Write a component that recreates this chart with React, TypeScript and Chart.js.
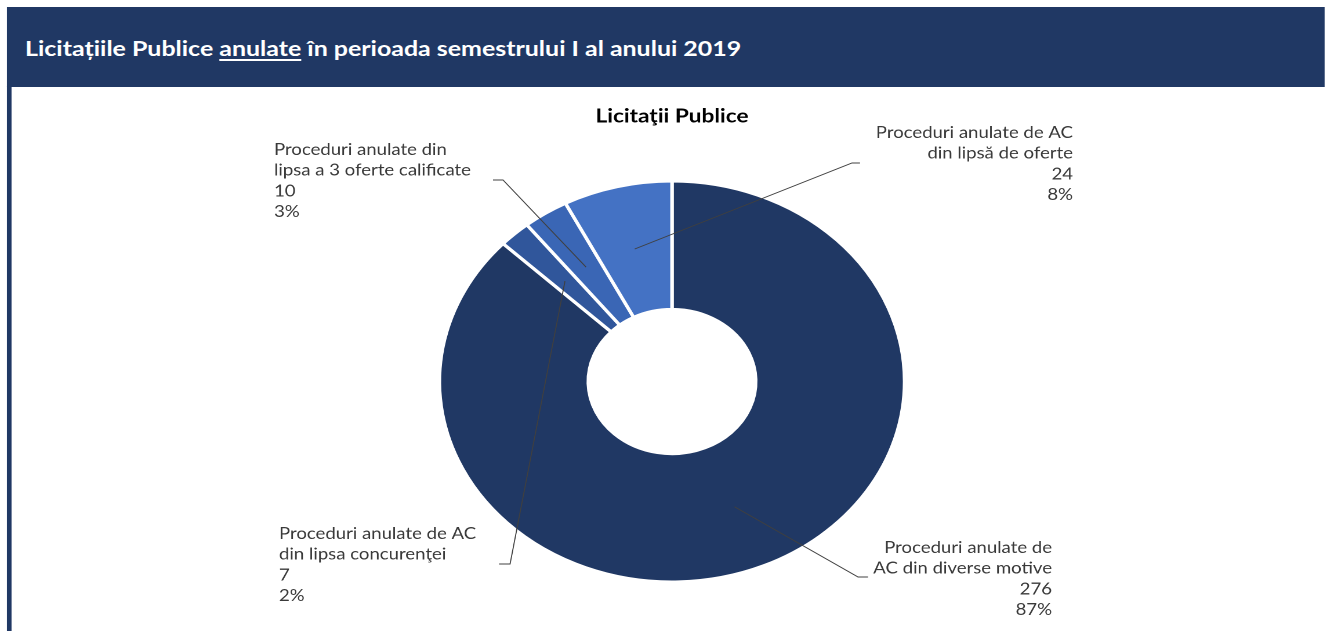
import React, { useEffect, useRef } from "react";
import { Chart, registerables } from "chart.js";

Chart.register(...registerables);

// ---------- data ----------
const categories: string[][] = [
  ["Proceduri anulate de", "AC din diverse motive"],
  ["Proceduri anulate de AC", "din lipsa concurenţei"],
  ["Proceduri anulate din", "lipsa a 3 oferte calificate"],
  ["Proceduri anulate de AC", "din lipsă de oferte"],
];
const values: number[] = [276, 7, 10, 24];
const sliceColors: string[] = ["#203864", "#30569B", "#3A66B5", "#4472C4"];
const chartTitle = "Licitaţii Publice";
const pageTitleBefore = "Licitațiile Publice ";
const pageTitleUnderlined = "anulate";
const pageTitleAfter = " în perioada semestrului I al anului 2019";

// ---------- layout ----------
const SCALE_X = 1.16;
const CANVAS_W = 1142;
const CANVAS_H = 600;
const CANVAS_TOP = 87;
const CENTER_X = 579.3;
const CENTER_Y = 294.5;
const RADIUS = 200.5;
const TITLE_SIZE = 19.5;
const TITLE_PAD_TOP = 17.3;
const LINE_H = 20.7;
const NAVY = "#203864";
const TEXT = "#3a3a3a";

type LabelPos = {
  elbow: [number, number];
  end: [number, number];
  textX: number;
  baseline: number;
  align: CanvasTextAlign;
};
const labelLayout: LabelPos[] = [
  { elbow: [160.4, 195.5], end: [169, 195.5], textX: 327.6, baseline: 171.5, align: "right" },
  { elbow: [-139.6, 182.5], end: [-149.1, 182.5], textX: -338.8, baseline: 157.5, align: "left" },
  { elbow: [-145.7, -201.5], end: [-154.3, -201.5], textX: -343.1, baseline: -226.5, align: "left" },
  { elbow: [155.2, -218.5], end: [162.1, -218.5], textX: 345.7, baseline: -243.5, align: "right" },
];

const labelPlugin = {
  id: "sliceLabels",
  afterDatasetsDraw(chart: any) {
    const meta = chart.getDatasetMeta(0);
    const ctx: CanvasRenderingContext2D = chart.ctx;
    const total = values.reduce((a, b) => a + b, 0);
    meta.data.forEach((el: any, i: number) => {
      const { x, y, startAngle, endAngle, innerRadius, outerRadius } = el.getProps(
        ["x", "y", "startAngle", "endAngle", "innerRadius", "outerRadius"],
        true
      );
      const mid = (startAngle + endAngle) / 2;
      const r = (innerRadius + outerRadius) / 2;
      const sx = x + Math.cos(mid) * r;
      const sy = y + Math.sin(mid) * r;
      const L = labelLayout[i];
      ctx.save();
      ctx.strokeStyle = "#404040";
      ctx.lineWidth = 0.9;
      ctx.beginPath();
      ctx.moveTo(sx, sy);
      ctx.lineTo(x + L.elbow[0], y + L.elbow[1]);
      ctx.lineTo(x + L.end[0], y + L.end[1]);
      ctx.stroke();
      ctx.fillStyle = TEXT;
      ctx.font = "16px Lato";
      ctx.textAlign = L.align;
      ctx.textBaseline = "alphabetic";
      const lines = [
        ...categories[i],
        String(values[i]),
        Math.round((values[i] / total) * 100) + "%",
      ];
      lines.forEach((t, k) => ctx.fillText(t, x + L.textX, y + L.baseline + k * LINE_H));
      ctx.restore();
    });
  },
};

function DoughnutChart() {
  const ref = useRef<HTMLCanvasElement | null>(null);
  useEffect(() => {
    let chart: Chart | null = null;
    let cancelled = false;
    const make = () => {
      if (cancelled || !ref.current) return;
      const titleBoxH = TITLE_SIZE * 1.2 + TITLE_PAD_TOP;
      const areaBottom = 2 * CENTER_Y - titleBoxH;
      const padLeft = CENTER_X - 300;
      const padRight = CANVAS_W - (CENTER_X + 300);
      chart = new Chart(ref.current, {
        type: "doughnut",
        data: {
          labels: categories,
          datasets: [
            {
              data: values,
              backgroundColor: sliceColors,
              borderColor: "#ffffff",
              borderWidth: 3,
            },
          ],
        },
        options: {
          animation: false,
          responsive: false,
          devicePixelRatio: 2,
          radius: RADIUS,
          cutout: "36%",
          layout: {
            padding: { left: padLeft, right: padRight, top: 0, bottom: CANVAS_H - areaBottom },
          },
          plugins: {
            legend: { display: false },
            tooltip: { enabled: false },
            title: {
              display: true,
              text: chartTitle,
              color: "#000000",
              font: { family: "Lato", size: TITLE_SIZE, weight: "bold", lineHeight: 1.2 },
              padding: { top: TITLE_PAD_TOP, bottom: 0 },
            },
          },
        } as any,
        plugins: [labelPlugin],
      });
    };
    const fontsReady = (document as any).fonts
      ? Promise.all([
          (document as any).fonts.load("16px Lato"),
          (document as any).fonts.load("bold 18px Lato"),
        ]).catch(() => null)
      : Promise.resolve(null);
    fontsReady.then(make);
    return () => {
      cancelled = true;
      if (chart) chart.destroy();
    };
  }, []);
  return (
    <canvas
      ref={ref}
      width={CANVAS_W}
      height={CANVAS_H}
      style={{ position: "absolute", left: 0, top: CANVAS_TOP, width: CANVAS_W, height: CANVAS_H }}
    />
  );
}

export default function App() {
  return (
    <div
      style={{
        position: "fixed",
        left: 0,
        top: 0,
        width: CANVAS_W,
        height: 631,
        overflow: "hidden",
        background: "#ffffff",
        transform: `scaleX(${SCALE_X})`,
        transformOrigin: "0 0",
      }}
    >
      <div
        style={{
          position: "absolute",
          left: 6.3,
          top: 7,
          width: CANVAS_W,
          height: 80,
          background: NAVY,
        }}
      />
      <div
        style={{
          position: "absolute",
          left: 6.3,
          top: 86,
          width: 4,
          height: 560,
          background: NAVY,
        }}
      />
      <div
        style={{
          position: "absolute",
          left: 21.6,
          top: 35.8,
          fontFamily: "Lato, sans-serif",
          fontWeight: 700,
          fontSize: 21.5,
          lineHeight: 1.2,
          color: "#ffffff",
          whiteSpace: "nowrap",
        }}
      >
        {pageTitleBefore}
        <span
          style={{
            textDecoration: "underline",
            textDecorationThickness: 2,
            textUnderlineOffset: 3,
          }}
        >
          {pageTitleUnderlined}
        </span>
        {pageTitleAfter}
      </div>
      <DoughnutChart />
    </div>
  );
}
